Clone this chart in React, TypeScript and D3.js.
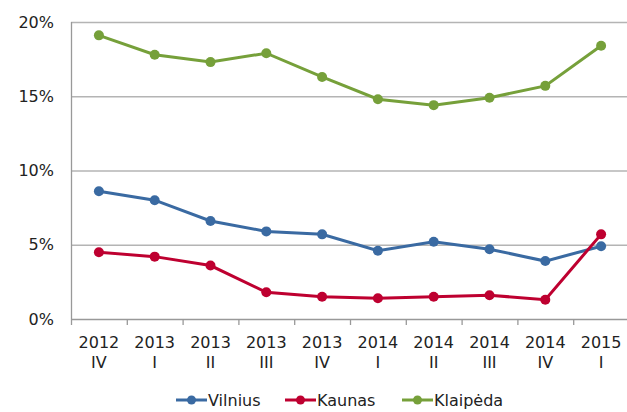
import React, { useEffect, useRef } from 'react';
import * as d3 from 'd3';

const years = ['2012', '2013', '2013', '2013', '2013', '2014', '2014', '2014', '2014', '2015'];
const quarters = ['IV', 'I', 'II', 'III', 'IV', 'I', 'II', 'III', 'IV', 'I'];
const vilnius = [8.6, 8.0, 6.6, 5.9, 5.7, 4.6, 5.2, 4.7, 3.9, 4.9];
const kaunas = [4.5, 4.2, 3.6, 1.8, 1.5, 1.4, 1.5, 1.6, 1.3, 5.7];
const klaipeda = [19.1, 17.8, 17.3, 17.9, 16.3, 14.8, 14.4, 14.9, 15.7, 18.4];
const yTicks = [0, 5, 10, 15, 20];

const series = [
  { name: 'Vilnius', values: vilnius, color: '#3a6aa2' },
  { name: 'Kaunas', values: kaunas, color: '#be0030' },
  { name: 'Klaipėda', values: klaipeda, color: '#76a03a' },
];

const App = () => {
  const ref = useRef<SVGSVGElement>(null);

  useEffect(() => {
    const svg = d3.select(ref.current);
    const width = 627;
    const height = 412;
    const marginLeft = 71;
    const marginRight = -2;
    const marginTop = 22;
    const marginBottom = 93;
    const font = 'DejaVu Sans, Verdana, sans-serif';

    svg.selectAll('*').remove();

    const idx = d3.range(years.length).map(String);
    const x = d3.scaleBand()
      .domain(idx)
      .range([marginLeft, width - marginRight]);

    const y = d3.scaleLinear()
      .domain([0, 20])
      .range([height - marginBottom, marginTop]);

    // gridlines
    svg.append('g')
      .selectAll('line')
      .data(yTicks.filter(t => t > 0))
      .join('line')
        .attr('x1', marginLeft)
        .attr('x2', width)
        .attr('y1', d => y(d) + 0.5)
        .attr('y2', d => y(d) + 0.5)
        .attr('stroke', '#b4b4b4')
        .attr('stroke-width', 1.3);

    // y labels
    svg.append('g')
      .selectAll('text')
      .data(yTicks)
      .join('text')
        .attr('x', marginLeft - 17)
        .attr('y', d => y(d))
        .attr('dy', '0.35em')
        .attr('text-anchor', 'end')
        .attr('font-family', font)
        .attr('font-size', 16)
        .attr('fill', '#222')
        .text(d => `${d}%`);

    // axes lines
    svg.append('line')
      .attr('x1', marginLeft + 0.5).attr('x2', marginLeft + 0.5)
      .attr('y1', y(20)).attr('y2', y(0))
      .attr('stroke', '#999').attr('stroke-width', 1.3);
    svg.append('line')
      .attr('x1', marginLeft).attr('x2', width)
      .attr('y1', y(0) + 0.5).attr('y2', y(0) + 0.5)
      .attr('stroke', '#999').attr('stroke-width', 1.3);

    // x tick marks between categories
    svg.append('g')
      .selectAll('line')
      .data(idx)
      .join('line')
        .attr('x1', d => x(d)! + 0.5)
        .attr('x2', d => x(d)! + 0.5)
        .attr('y1', y(0))
        .attr('y2', y(0) + 6)
        .attr('stroke', '#999')
        .attr('stroke-width', 1.3);

    // x labels
    const xl = svg.append('g')
      .selectAll('text')
      .data(idx)
      .join('text')
        .attr('x', d => x(d)! + x.bandwidth() / 2)
        .attr('text-anchor', 'middle')
        .attr('font-family', font)
        .attr('font-size', 16)
        .attr('fill', '#222');
    xl.append('tspan').attr('x', d => x(d)! + x.bandwidth() / 2).attr('y', 348).text(d => years[+d]);
    xl.append('tspan').attr('x', d => x(d)! + x.bandwidth() / 2).attr('y', 368).text(d => quarters[+d]);

    const line = d3.line<number>()
      .x((_, i) => x(String(i))! + x.bandwidth() / 2)
      .y(d => y(d));

    series.forEach(s => {
      const g = svg.append('g');
      g.append('path')
        .datum(s.values)
        .attr('fill', 'none')
        .attr('stroke', s.color)
        .attr('stroke-width', 3)
        .attr('d', line);
      g.selectAll('circle')
        .data(s.values)
        .join('circle')
          .attr('cx', (_, i) => x(String(i))! + x.bandwidth() / 2)
          .attr('cy', d => y(d))
          .attr('r', 5)
          .attr('fill', s.color);
    });

    // legend
    const legendX = [176, 285, 402];
    const legendY = 400;
    series.forEach((s, i) => {
      const g = svg.append('g').attr('transform', `translate(${legendX[i]},${legendY})`);
      g.append('line').attr('x1', 0).attr('x2', 31).attr('y1', 0).attr('y2', 0)
        .attr('stroke', s.color).attr('stroke-width', 3);
      g.append('circle').attr('cx', 15.5).attr('cy', 0).attr('r', 4.5).attr('fill', s.color);
      g.append('text').attr('x', 32).attr('y', 0).attr('dy', '0.35em')
        .attr('font-family', font).attr('font-size', 16).attr('fill', '#222')
        .text(s.name);
    });
  }, []);

  return (
    <svg ref={ref} width={627} height={412}
      style={{ position: 'absolute', left: 0, top: 0, background: '#fff' }} />
  );
};

export default App;
